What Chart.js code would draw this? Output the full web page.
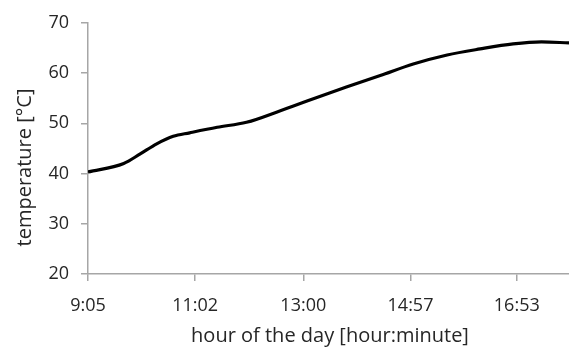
<!DOCTYPE html>
<html>
<head>
<meta charset="utf-8">
<script src="https://cdn.jsdelivr.net/npm/chart.js@4.4.1/dist/chart.umd.min.js"></script>
<style>
  html, body { margin: 0; padding: 0; background: #ffffff; }
  #wrap { width: 569px; height: 347px; }
</style>
</head>
<body>
<div id="wrap"><canvas id="c" width="569" height="347"></canvas></div>
<script>
// Time of day in minutes after midnight, and measured temperature in °C
const timeMinutes = [545, 584, 602, 620, 638, 656, 686, 718, 755, 791, 827, 864, 900, 937, 973, 1009, 1040, 1070];
const temperature = [40.3, 42.0, 43.9, 45.9, 47.4, 48.1, 49.2, 50.2, 52.5, 54.9, 57.2, 59.5, 61.8, 63.6, 64.8, 65.8, 66.2, 66.0];

// Axis ticks
const xTickMinutes = [545, 662, 780, 897, 1013];
const xTickLabels = ['9:05', '11:02', '13:00', '14:57', '16:53'];
const yTicks = [20, 30, 40, 50, 60, 70];

const xTitle = 'hour of the day [hour:minute]';
const yTitle = 'temperature [°C]';

const FONT = '"Open Sans", sans-serif';
const TICK_SIZE = 18;
const TITLE_SIZE = 20;
const TEXT = '#262626';
const AXIS = '#a6a6a6';

// Axis titles placed by hand, as the plot software does
const axisTitles = {
  id: 'axisTitles',
  afterDraw(chart) {
    const ctx = chart.ctx;
    ctx.save();
    ctx.fillStyle = TEXT;
    ctx.font = TITLE_SIZE + 'px ' + FONT;
    ctx.textAlign = 'center';
    ctx.textBaseline = 'alphabetic';
    ctx.fillText(xTitle, 330, 342);
    ctx.translate(30.5, 167.5);
    ctx.rotate(-Math.PI / 2);
    ctx.fillText(yTitle, 0, 0);
    ctx.restore();
  }
};

new Chart(document.getElementById('c'), {
  type: 'line',
  data: {
    datasets: [{
      data: timeMinutes.map((t, i) => ({ x: t, y: temperature[i] })),
      borderColor: '#000000',
      borderWidth: 3.2,
      pointRadius: 0,
      cubicInterpolationMode: 'monotone',
      fill: false
    }]
  },
  options: {
    responsive: false,
    animation: false,
    layout: { padding: { top: 22, right: 0, bottom: 0, left: 0 } },
    plugins: { legend: { display: false }, tooltip: { enabled: false } },
    scales: {
      x: {
        type: 'linear',
        min: 545,
        max: 1070,
        afterBuildTicks(scale) { scale.ticks = xTickMinutes.map(v => ({ value: v })); },
        afterFit(scale) { scale.height = 73; },
        border: { color: AXIS, width: 1.5 },
        grid: { drawOnChartArea: false, color: AXIS, tickLength: 7, lineWidth: 1.5 },
        ticks: {
          color: TEXT,
          font: { family: FONT, size: TICK_SIZE },
          padding: 14,
          maxRotation: 0,
          callback: (v) => xTickLabels[xTickMinutes.indexOf(v)] ?? ''
        }
      },
      y: {
        min: 20,
        max: 70,
        afterBuildTicks(scale) { scale.ticks = yTicks.map(v => ({ value: v })); },
        afterFit(scale) { scale.width = 88; },
        border: { color: AXIS, width: 1.5 },
        grid: { drawOnChartArea: false, color: AXIS, tickLength: 7, lineWidth: 1.5 },
        ticks: {
          color: TEXT,
          font: { family: FONT, size: TICK_SIZE },
          padding: 12
        }
      }
    }
  },
  plugins: [axisTitles]
});
</script>
</body>
</html>
